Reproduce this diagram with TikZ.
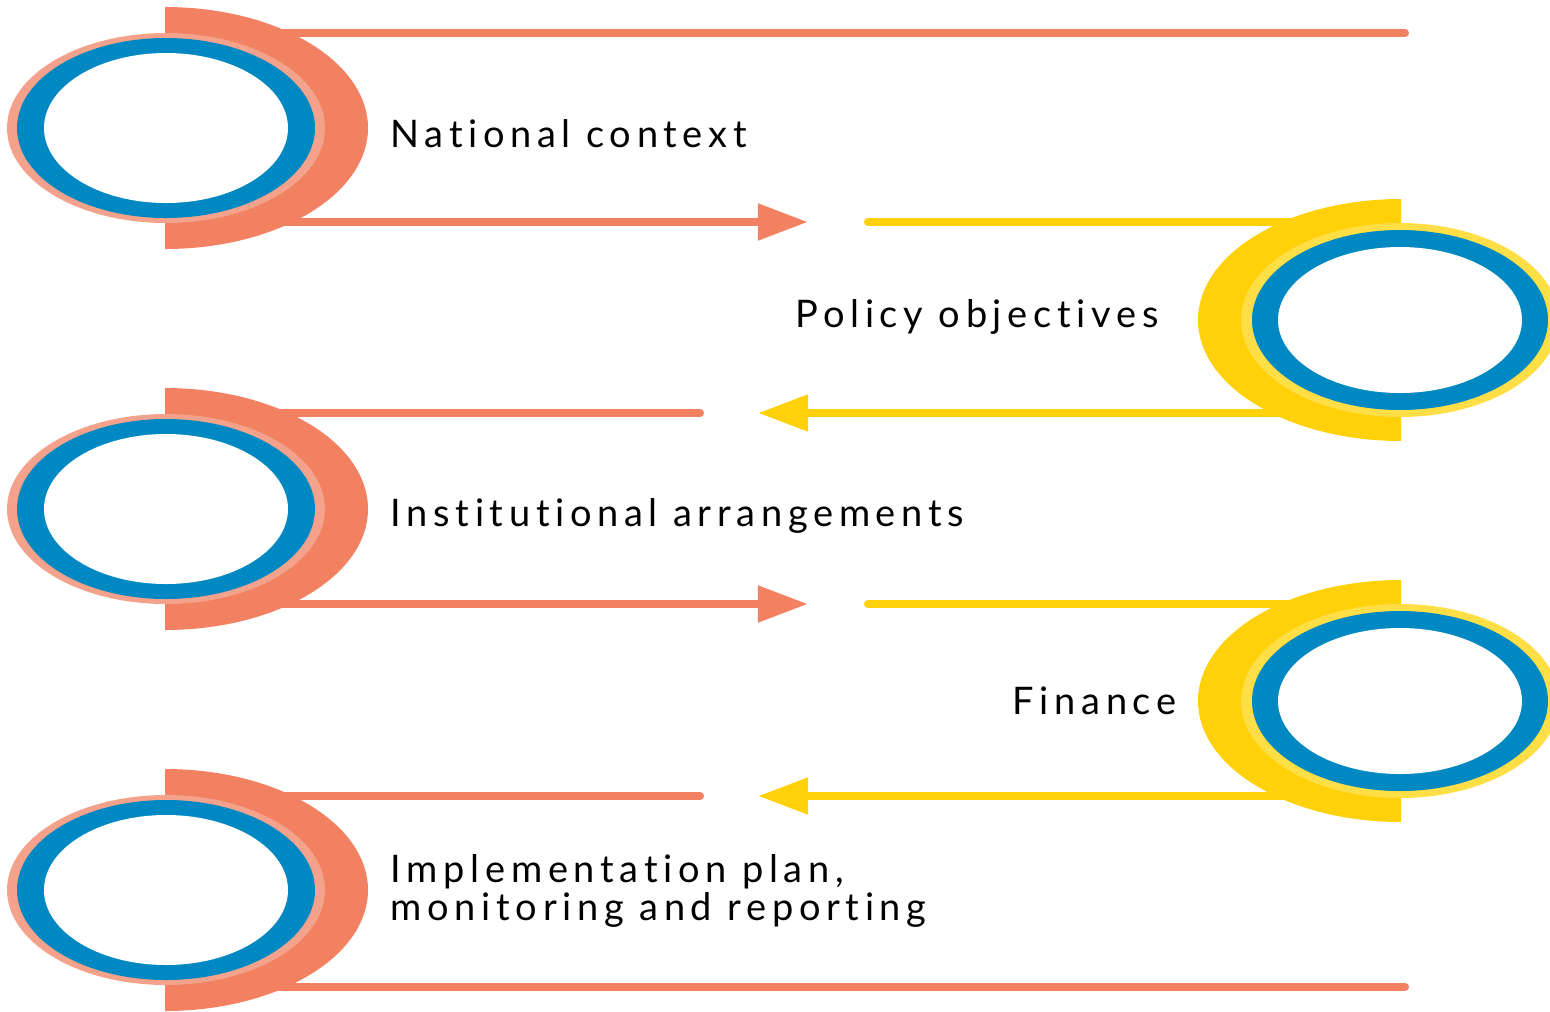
\documentclass[tikz,border=0pt]{standalone}
\usepackage{fontspec}
\setmainfont{Lato}[LetterSpace=15, Ligatures=NoCommon]
\usetikzlibrary{arrows.meta}
\definecolor{pathorange}{RGB}{241,129,97}
\definecolor{ringsalmon}{RGB}{244,162,140}
\definecolor{ringblue}{RGB}{0,136,194}
\definecolor{pathyellow}{RGB}{254,209,10}
\definecolor{ringyellow}{RGB}{255,222,70}

\begin{document}
\begin{tikzpicture}[x=0.01cm, y=-0.01cm,
		oline/.style={pathorange, line width=2.3pt, line cap=round},
		yline/.style={pathyellow, line width=2.3pt, line cap=round},
		flowtip/.style={-{Triangle[length=0.5cm, width=0.35cm]}},
		stagetext/.style={anchor=base west, inner sep=0pt, align=left, font=\fontsize{10.8}{10.8}\selectfont}]
		\clip (0,0) rectangle (1550,1011);
		% where the lines stop
		\coordinate (farend) at (1405,0);
		\coordinate (tipright) at (808,0);
		\coordinate (tipleft) at (758,0);
		\coordinate (ostop) at (700,0);
		\coordinate (ystart) at (868,0);
		% where the lines leave the discs
		\coordinate (nat-n) at (220,33);   \coordinate (nat-s) at (220,222);
		\coordinate (pol-n) at (1346,222); \coordinate (pol-s) at (1346,413);
		\coordinate (ins-n) at (220,413);  \coordinate (ins-s) at (220,604);
		\coordinate (fin-n) at (1346,604); \coordinate (fin-s) at (1346,796);
		\coordinate (imp-n) at (220,796);  \coordinate (imp-s) at (220,987);
		% lines
		\draw[oline] (nat-n) -- (nat-n -| farend);
		\draw[oline, flowtip] (nat-s) -- (nat-s -| tipright);
		\draw[yline] (pol-n) -- (pol-n -| ystart);
		\draw[yline, flowtip] (pol-s) -- (pol-s -| tipleft);
		\draw[oline] (ins-n) -- (ins-n -| ostop);
		\draw[oline, flowtip] (ins-s) -- (ins-s -| tipright);
		\draw[yline] (fin-n) -- (fin-n -| ystart);
		\draw[yline, flowtip] (fin-s) -- (fin-s -| tipleft);
		\draw[oline] (imp-n) -- (imp-n -| ostop);
		\draw[oline] (imp-s) -- (imp-s -| farend);
		% discs
		\foreach \yc in {128,509,890}{
			\fill[pathorange] (165,\yc-121) arc[start angle=-90, end angle=90, x radius=203, y radius=121] -- cycle;
			\fill[ringsalmon] (166,\yc) ellipse [x radius=159, y radius=95];
			\fill[ringblue] (166,\yc) ellipse [x radius=149, y radius=90];
			\fill[white] (166,\yc) ellipse [x radius=122, y radius=75];
		}
		\foreach \yc in {320,701}{
			\fill[pathyellow] (1401,\yc-121) arc[start angle=-90, end angle=-270, x radius=203, y radius=121] -- cycle;
			\fill[ringyellow] (1400,\yc) ellipse [x radius=159, y radius=97];
			\fill[ringblue] (1400,\yc) ellipse [x radius=148, y radius=90];
			\fill[white] (1400,\yc) ellipse [x radius=122, y radius=73];
		}
		% texts
		\node[stagetext] (national) at (390,147) {National context};
		\node[stagetext] (policy) at (795,327) {Policy objectives};
		\node[stagetext] (institutional) at (390,526) {Institutional arrangements};
		\node[stagetext] (finance) at (1012,714) {Finance};
		\node[stagetext] (implementation) at (390,920) {Implementation plan,\\monitoring and reporting};
	\end{tikzpicture}
\end{document}
